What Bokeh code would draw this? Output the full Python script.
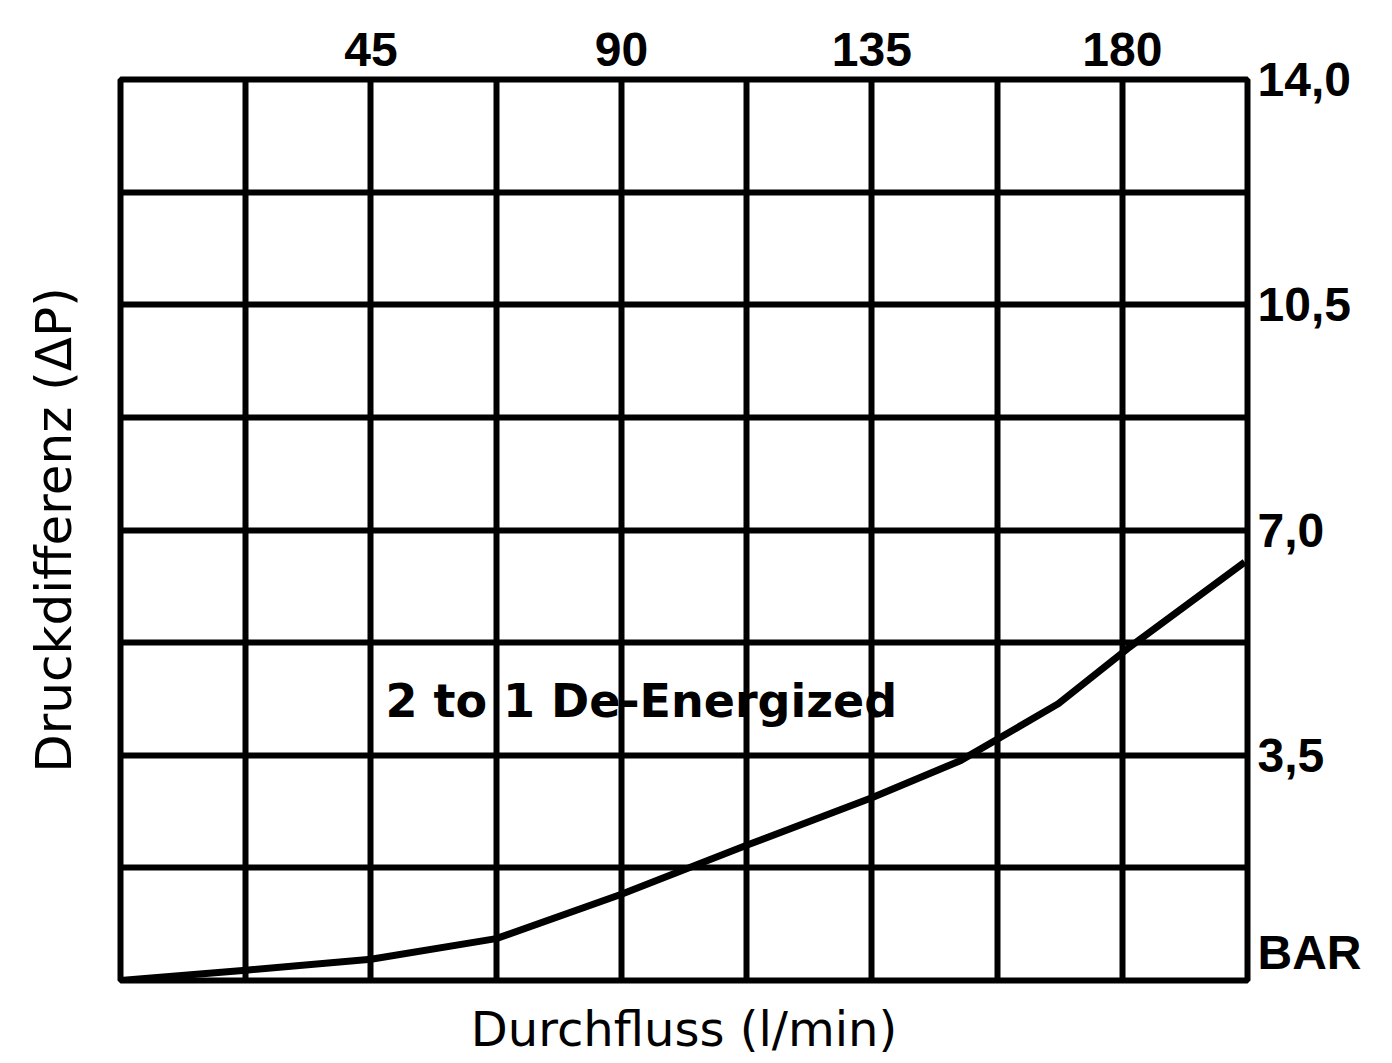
from bokeh.plotting import figure
from bokeh.models import (Range1d, LinearAxis, FixedTicker, CustomJSTickFormatter,
                          ColumnDataSource)
from bokeh.core.properties import value
from bokeh.embed import file_html
from bokeh.resources import INLINE

# ---- data ----
flow = [0, 22.5, 45, 67.5, 90, 112.5, 135, 151, 168.5, 181, 202]          # l/min
dp = [0, 0.16, 0.33, 0.65, 1.34, 2.10, 2.84, 3.42, 4.30, 5.16, 6.50]      # bar

x_ticks = [45, 90, 135, 180]
y_ticks = [3.5, 7.0, 10.5, 14.0]
unit_tick = 0.44            # where the unit text "BAR" sits on the right scale
x_grid = [0, 22.5, 45, 67.5, 90, 112.5, 135, 157.5, 180, 202.5]
y_grid = [0, 1.75, 3.5, 5.25, 7.0, 8.75, 10.5, 12.25, 14.0]

curve_label = "2 to 1 De-Energized"
x_title = "Durchfluss (l/min)"
y_title = "Druckdifferenz (ΔP)"
unit_label = "BAR"

FONT = "DejaVu Sans"
TICK_FONT = "Liberation Sans"

p = figure(width=1392, height=1063,
           x_range=Range1d(0, 202.5), y_range=Range1d(0, 14),
           x_axis_location="above", y_axis_location="right",
           output_backend="svg", toolbar_location=None,
           min_border_left=120, min_border_right=145,
           min_border_top=79, min_border_bottom=83)

p.background_fill_color = "white"
p.border_fill_color = "white"
p.outline_line_color = "black"
p.outline_line_width = 6

# top axis (flow ticks)
top = p.xaxis[0]
top.ticker = FixedTicker(ticks=x_ticks)
# right axis (pressure ticks + unit)
right = p.yaxis[0]
right.ticker = FixedTicker(ticks=[unit_tick] + y_ticks)
right.formatter = CustomJSTickFormatter(
    args=dict(unit=unit_label, ut=unit_tick),
    code="if (Math.abs(tick - ut) < 1e-6) { return unit; } "
         "return tick.toFixed(1).replace('.', ',');")

for ax in (top, right):
    ax.axis_line_color = None
    ax.major_tick_line_color = None
    ax.minor_tick_line_color = None
    ax.major_label_text_font = TICK_FONT
    ax.major_label_text_font_style = "bold"
    ax.major_label_text_font_size = "48px"
    ax.major_label_text_color = "black"
top.major_label_standoff = 8
right.major_label_standoff = 4

# left and bottom axes carry only the titles
left = LinearAxis(ticker=FixedTicker(ticks=[]), axis_label=y_title)
bottom = LinearAxis(ticker=FixedTicker(ticks=[]), axis_label=x_title)
for ax in (left, bottom):
    ax.axis_line_color = None
    ax.major_tick_line_color = None
    ax.minor_tick_line_color = None
    ax.axis_label_text_font = FONT
    ax.axis_label_text_font_style = "normal"
    ax.axis_label_text_color = "black"
left.axis_label_text_font_size = "50px"
bottom.axis_label_text_font_size = "48px"
left.axis_label_standoff = 38
bottom.axis_label_standoff = 20
p.add_layout(left, "left")
p.add_layout(bottom, "below")

# grid
p.xgrid.ticker = FixedTicker(ticks=x_grid)
p.ygrid.ticker = FixedTicker(ticks=y_grid)
for g in (p.xgrid, p.ygrid):
    g.grid_line_color = "black"
    g.grid_line_width = 6
    g.grid_line_alpha = 1.0

# curve
src = ColumnDataSource(data=dict(x=flow, y=dp))
p.line("x", "y", source=src, line_color="black", line_width=7)

# curve annotation
txt = ColumnDataSource(data=dict(x=[47.6], y=[4.35], t=[curve_label]))
p.text("x", "y", text="t", source=txt, text_font=value(FONT),
       text_font_style="bold", text_font_size="46px", text_color="black",
       text_align="left", text_baseline="middle")

open("out.html", "w").write(file_html(p, INLINE))
